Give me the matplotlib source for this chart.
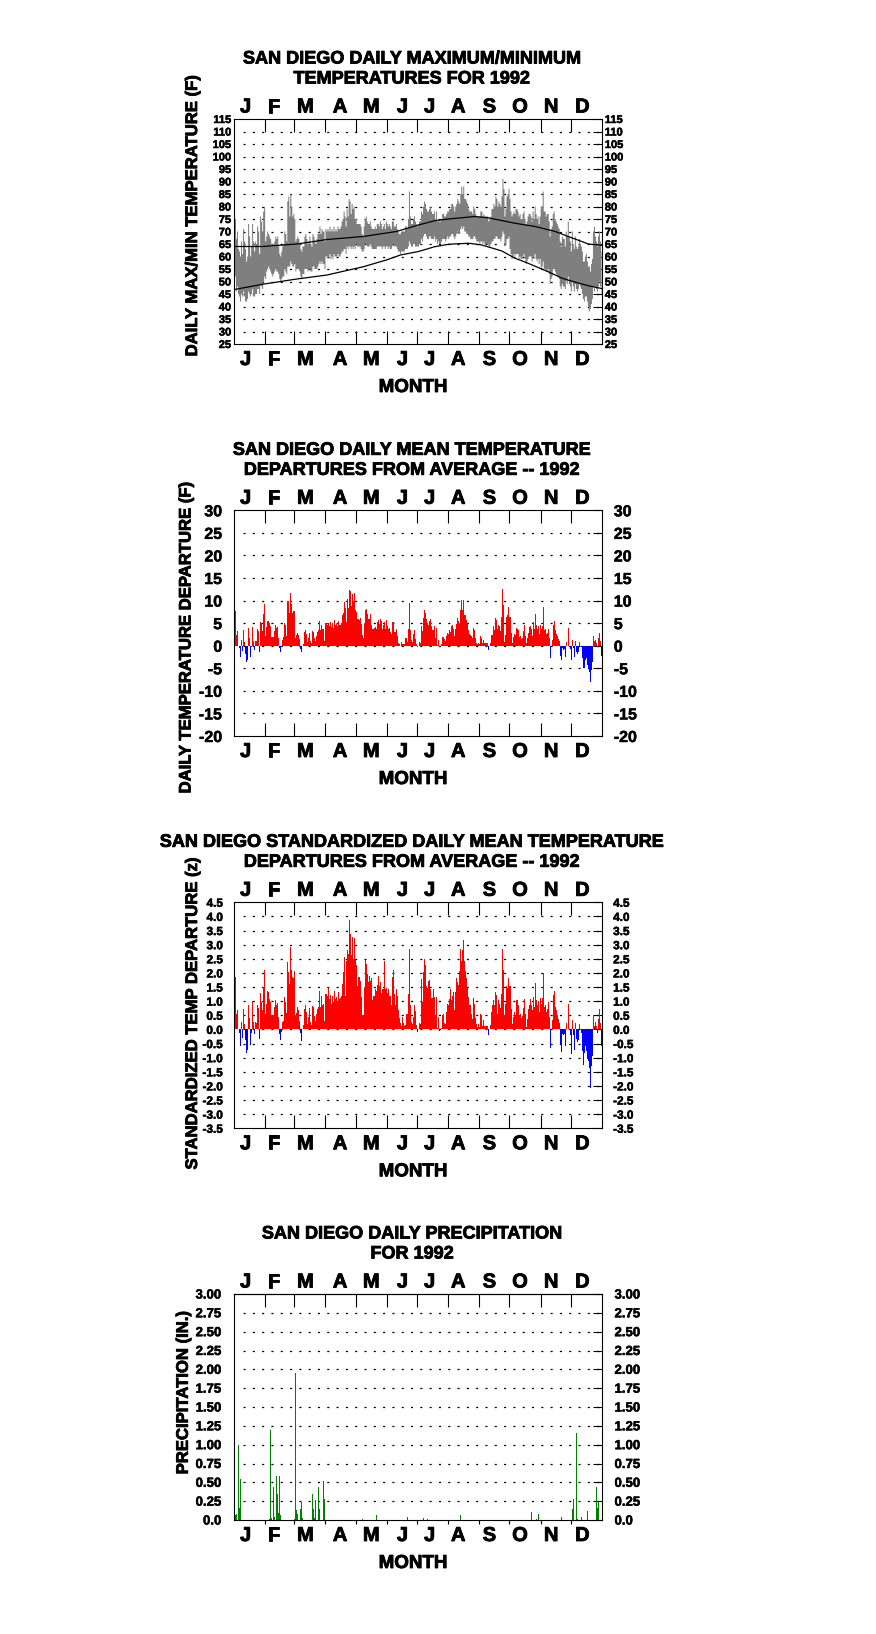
import numpy as np
import matplotlib
matplotlib.use('Agg')
import matplotlib.pyplot as plt
import matplotlib.patheffects as pe

plt.rcParams['font.family'] = ['Liberation Sans', 'DejaVu Sans']
plt.rcParams['font.weight'] = 'bold'
plt.rcParams['axes.unicode_minus'] = False
plt.rcParams['lines.scale_dashes'] = False

# ---------------- data ----------------
days = np.arange(1, 367)

# observed daily max / min (F), month by month
tmax = [68, 75, 67, 70, 63, 62, 60, 66, 61, 71, 66, 63, 58, 60, 73, 68, 60, 64, 73, 66, 62, 66, 65, 72, 70, 61, 76, 74, 70, 78, 80,
        66, 68, 70, 69, 68, 67, 64, 65, 64, 66, 68, 67, 68, 64, 61, 60, 62, 64, 65, 70, 69, 66, 82, 84, 76, 85, 80, 76, 77,
        75, 66, 67, 68, 67, 65, 63, 62, 64, 64, 68, 69, 67, 65, 66, 68, 65, 64, 69, 68, 66, 65, 67, 69, 69, 72, 69, 71, 70, 70, 66,
        71, 70, 71, 70, 72, 70, 71, 70, 72, 70, 71, 70, 72, 71, 71, 72, 74, 75, 78, 76, 72, 79, 76, 83, 82, 77, 81, 79, 80, 75,
        75, 73, 73, 73, 73, 72, 69, 68, 72, 75, 76, 74, 73, 73, 74, 72, 71, 71, 71, 72, 71, 73, 73, 72, 74, 73, 71, 72, 73, 71, 74,
        73, 72, 73, 72, 71, 74, 74, 72, 72, 73, 71, 70, 69, 69, 70, 70, 70, 70, 72, 72, 71, 75, 86, 76, 73, 73, 75, 76, 74, 73,
        72, 73, 74, 74, 78, 77, 80, 82, 81, 79, 78, 78, 79, 80, 78, 77, 77, 78, 75, 78, 74, 75, 74, 74, 75, 77, 77, 76, 76, 77, 78,
        78, 79, 79, 81, 81, 80, 78, 80, 81, 83, 82, 81, 85, 88, 85, 88, 83, 83, 82, 81, 79, 78, 78, 78, 77, 80, 79, 77, 76, 76, 76,
        76, 78, 78, 76, 77, 76, 76, 76, 76, 74, 75, 76, 79, 79, 81, 80, 84, 83, 80, 82, 81, 80, 84, 91, 87, 76, 79, 84, 85, 87,
        83, 78, 76, 77, 78, 77, 79, 79, 78, 76, 77, 75, 75, 77, 78, 75, 73, 74, 76, 77, 77, 76, 74, 78, 75, 80, 77, 75, 76, 73, 76,
        80, 80, 86, 78, 78, 76, 77, 77, 74, 68, 71, 72, 77, 78, 75, 74, 73, 72, 71, 66, 64, 68, 67, 67, 64, 70, 68, 74, 68, 66,
        62, 70, 65, 63, 68, 64, 63, 64, 67, 65, 64, 62, 58, 58, 60, 61, 58, 56, 56, 54, 57, 59, 70, 72, 68, 66, 64, 68, 70, 66, 62]
tmin = [46, 52, 46, 48, 45, 44, 42, 45, 44, 46, 44, 42, 42, 43, 46, 45, 44, 45, 47, 44, 44, 45, 45, 47, 47, 45, 49, 48, 47, 50, 52,
        51, 54, 55, 56, 55, 54, 53, 52, 53, 54, 55, 54, 54, 53, 51, 50, 51, 52, 52, 55, 54, 53, 56, 56, 56, 58, 57, 56, 56,
        57, 54, 55, 55, 55, 54, 52, 51, 53, 53, 55, 55, 55, 54, 55, 55, 54, 54, 56, 56, 55, 55, 55, 56, 57, 58, 57, 58, 57, 57, 55,
        60, 60, 60, 59, 61, 59, 60, 59, 61, 60, 60, 60, 61, 60, 60, 61, 62, 62, 63, 63, 61, 64, 63, 64, 64, 63, 64, 63, 64, 63,
        65, 64, 64, 64, 64, 63, 62, 62, 63, 65, 65, 64, 64, 64, 65, 64, 63, 63, 63, 63, 63, 64, 64, 64, 64, 64, 63, 64, 64, 63, 64,
        64, 63, 64, 63, 63, 64, 65, 64, 64, 64, 63, 62, 62, 61, 62, 62, 62, 62, 63, 63, 63, 64, 66, 65, 64, 64, 65, 65, 64, 64,
        64, 64, 65, 65, 67, 66, 68, 69, 69, 68, 67, 67, 68, 68, 67, 67, 67, 68, 66, 67, 65, 66, 65, 65, 66, 67, 67, 67, 66, 67, 68,
        67, 68, 68, 69, 69, 68, 67, 68, 69, 70, 69, 69, 71, 72, 71, 72, 70, 70, 69, 69, 68, 68, 67, 67, 67, 68, 68, 67, 66, 66, 66,
        65, 66, 66, 65, 66, 65, 65, 65, 65, 64, 64, 65, 66, 66, 67, 67, 68, 68, 67, 67, 67, 66, 68, 70, 69, 64, 65, 67, 67, 68,
        63, 61, 59, 60, 61, 60, 61, 61, 61, 59, 60, 59, 59, 60, 61, 59, 57, 58, 59, 60, 60, 60, 58, 60, 59, 61, 59, 58, 59, 57, 59,
        55, 56, 58, 55, 55, 54, 54, 55, 53, 49, 51, 52, 55, 55, 54, 53, 52, 52, 51, 48, 47, 49, 48, 48, 47, 50, 49, 52, 49, 48,
        46, 50, 48, 46, 49, 47, 46, 47, 49, 48, 47, 45, 43, 42, 44, 44, 42, 40, 38, 39, 41, 43, 48, 46, 48, 47, 46, 48, 50, 48, 45]

# normal max / min curves (F)
nmax_days = [1, 29, 63, 93, 129, 162, 184, 200, 214, 240, 253, 280, 300, 320, 333, 353, 366]
nmax = [64.0, 64.0, 65.0, 66.8, 68.0, 70.0, 72.6, 74.3, 75.0, 76.0, 75.5, 73.3, 72.0, 70.0, 68.0, 65.0, 64.5]
nmin_days = [1, 29, 63, 93, 129, 152, 166, 184, 200, 214, 234, 247, 267, 280, 293, 313, 327, 340, 353, 366]
nmin = [46.8, 48.9, 51.0, 52.6, 55.9, 58.6, 60.6, 62.0, 63.9, 64.9, 65.3, 64.6, 62.2, 59.3, 57.3, 53.9, 51.3, 49.7, 48.3, 47.2]

# daily mean departure (F)
dep = [1.3, 7.7, 2.4, 3.2, 0.0, -0.5, -2.6, 1.2, -1.2, 3.5,
       0.9, -1.8, -3.6, -3.1, 4.0, 1.8, -2.5, -0.3, 4.2, 1.0,
       -0.9, 1.1, 1.0, 3.7, 3.2, -1.3, 5.3, 5.1, 3.2, 7.1,
       9.3, 2.1, 4.2, 5.4, 5.4, 5.0, 4.3, 2.0, 2.0, 2.0,
       3.3, 4.5, 4.0, 4.2, 1.8, -0.5, -1.3, -0.3, 1.3, 1.9,
       5.1, 4.6, 2.2, 10.0, 9.8, 7.2, 11.7, 9.3, 7.2, 7.6,
       7.7, 1.8, 2.4, 2.8, 2.4, 1.5, -0.7, -1.5, 0.0, 0.3,
       3.1, 3.5, 2.6, 0.8, 1.7, 2.9, 1.0, 0.5, 3.3, 3.0,
       1.8, 1.0, 2.1, 3.1, 3.4, 5.4, 3.4, 4.7, 3.6, 3.7,
       1.1, 5.1, 4.7, 5.1, 4.3, 5.3, 4.2, 5.1, 4.0, 5.7,
       4.5, 4.8, 4.3, 5.5, 4.5, 4.6, 5.1, 6.8, 7.2, 9.6,
       8.3, 5.3, 10.4, 8.3, 12.4, 12.1, 8.9, 11.5, 9.9, 11.6,
       7.9, 7.5, 6.0, 5.9, 5.7, 6.1, 4.9, 2.4, 1.8, 4.8,
       7.9, 8.2, 7.0, 6.0, 6.0, 7.1, 4.6, 3.7, 3.8, 4.0,
       4.2, 3.7, 5.3, 5.7, 4.8, 6.0, 5.4, 3.8, 4.7, 5.3,
       3.7, 5.7, 4.3, 3.8, 4.0, 3.0, 2.6, 5.3, 5.3, 3.0,
       3.0, 3.7, 2.2, 0.7, 0.4, 0.0, 0.8, 0.4, 0.4, 0.3,
       1.8, 1.8, 0.9, 3.7, 9.4, 3.5, 1.3, 0.9, 2.6, 3.5,
       1.5, 0.4, -0.2, 0.0, 0.9, 0.7, 4.3, 3.2, 6.1, 7.9,
       7.2, 5.9, 5.0, 4.5, 5.4, 6.0, 4.3, 3.5, 3.5, 4.4,
       1.8, 3.9, 0.2, 1.3, -0.2, 0.0, 0.4, 1.9, 1.9, 1.5,
       1.0, 2.1, 2.8, 2.5, 3.4, 3.1, 4.3, 4.5, 3.8, 2.2,
       3.7, 4.8, 6.2, 5.5, 4.9, 7.9, 10.1, 8.0, 10.1, 6.7,
       6.7, 5.7, 4.9, 3.4, 2.7, 2.4, 2.1, 1.7, 3.9, 3.5,
       1.6, 0.7, 0.4, 0.7, 0.4, 2.2, 1.7, 0.6, 1.3, 0.6,
       0.6, 0.6, 0.6, -0.9, 0.0, 0.6, 2.4, 2.4, 4.3, 3.5,
       6.1, 5.7, 3.7, 4.6, 4.3, 3.2, 6.4, 12.5, 9.1, 0.9,
       2.4, 6.3, 6.8, 8.6, 6.3, 2.9, 0.7, 1.9, 2.7, 2.4,
       3.9, 3.8, 3.5, 1.9, 2.2, 1.5, 1.8, 3.3, 4.5, 2.1,
       0.7, 1.6, 2.9, 4.1, 4.3, 3.8, 2.2, 5.2, 3.6, 7.1,
       4.6, 3.7, 4.3, 2.5, 4.6, 3.7, 4.4, 8.6, 3.5, 3.7,
       2.6, 2.9, 3.8, 1.6, -2.7, 0.0, 1.3, 4.6, 5.4, 3.5,
       2.7, 2.1, 1.5, 1.0, -2.2, -3.1, -0.5, -0.9, -0.7, -2.4,
       0.9, 0.0, 3.9, 0.0, -0.7, -3.2, 1.3, -0.6, -2.5, 1.1,
       -1.3, -1.8, -1.4, 0.9, 0.0, -0.3, -2.7, -4.9, -4.9, -3.2,
       -2.7, -4.2, -5.1, -5.9, -8.0, -5.3, -3.7, 2.2, 1.0, 1.2,
       0.7, -0.3, 1.7, 2.9, 1.0, -2.2]

# standardized daily mean departure (z)
zdep = [0.34, 1.84, 0.53, 0.67, 0.0, -0.12, -0.57, 0.26, -0.32, 0.71,
        0.19, -0.39, -0.84, -0.72, 0.87, 0.40, -0.54, -0.13, 0.99, 0.25,
        -0.15, 0.25, 0.24, 0.88, 0.77, -0.34, 1.29, 0.97, 0.70, 1.49,
        2.12, 0.54, 0.90, 1.35, 1.31, 1.07, 0.97, 0.50, 0.50, 0.50,
        0.81, 1.04, 0.87, 0.95, 0.45, -0.15, -0.37, -0.10, 0.26, 0.29,
        1.14, 0.97, 0.58, 2.38, 2.03, 1.62, 2.91, 2.09, 1.85, 1.83,
        2.06, 0.50, 0.59, 0.79, 0.67, 0.29, -0.12, -0.41, 0.0, 0.14,
        0.72, 0.87, 0.61, 0.18, 0.44, 0.77, 0.28, 0.14, 0.83, 0.79,
        0.48, 0.29, 0.55, 0.73, 0.81, 1.36, 0.81, 1.19, 0.86, 0.91,
        0.29, 1.26, 1.18, 1.45, 1.09, 1.22, 0.91, 1.17, 0.98, 1.37,
        1.06, 1.14, 1.01, 1.31, 1.06, 1.10, 1.20, 1.62, 2.02, 2.56,
        1.20, 2.41, 2.80, 2.68, 3.88, 3.39, 2.65, 3.27, 2.50, 3.24,
        2.47, 2.27, 1.52, 1.85, 1.85, 1.73, 1.14, 0.50, 0.50, 1.47,
        2.47, 2.32, 1.95, 1.68, 1.88, 1.73, 1.83, 1.05, 1.19, 1.19,
        1.44, 1.37, 1.56, 1.90, 1.55, 1.68, 1.29, 1.43, 1.43, 2.42,
        1.43, 1.46, 1.29, 1.43, 1.19, 1.19, 0.88, 1.85, 2.11, 1.26,
        0.88, 1.44, 1.19, 0.67, 0.41, 0.22, 0.11, 0.44, 0.22, 0.11,
        0.14, 0.53, 0.53, 1.24, 2.86, 0.85, 0.25, 0.18, 0.44, 0.85,
        0.65, 0.14, -0.09, 0.0, 0.22, 0.20, 1.77, 0.97, 2.03, 2.48,
        2.27, 1.52, 1.47, 1.73, 1.76, 1.44, 1.12, 1.12, 1.44, 1.14,
        0.50, 1.14, 0.05, 0.44, -0.07, 0.0, 0.06, 0.50, 0.53, 0.24,
        0.20, 0.61, 0.91, 0.88, 1.09, 1.44, 1.05, 1.18, 1.32, 0.70,
        1.32, 1.81, 1.68, 1.59, 2.06, 2.86, 2.41, 2.82, 3.15, 2.41,
        2.06, 1.83, 1.47, 1.14, 0.88, 0.88, 0.55, 0.37, 1.12, 0.91,
        0.41, 0.18, 0.08, 0.18, 0.08, 0.55, 0.50, 0.11, 0.35, 0.12,
        0.12, 0.12, 0.12, -0.21, 0.0, 0.14, 0.61, 0.85, 1.05, 0.85,
        1.32, 1.23, 0.55, 1.03, 0.91, 0.77, 1.26, 2.86, 2.09, 0.50,
        0.91, 1.52, 1.45, 1.83, 1.52, 0.73, 0.20, 0.44, 0.61, 0.50,
        1.03, 1.03, 0.88, 0.50, 0.55, 0.41, 0.46, 0.77, 1.09, 0.55,
        0.08, 0.38, 0.72, 0.88, 1.06, 0.88, 0.67, 1.14, 0.81, 1.65,
        1.05, 0.88, 0.99, 0.63, 1.12, 0.91, 1.12, 1.99, 0.81, 0.88,
        0.61, 0.73, 0.97, 0.44, -0.66, 0.0, 0.34, 1.23, 1.36, 0.81,
        0.67, 0.50, 0.38, 0.22, -0.53, -0.80, -0.15, -0.20, -0.15, -0.58,
        0.22, 0.0, 0.91, 0.0, -0.21, -0.86, 0.34, -0.21, -0.72, 0.22,
        -0.33, -0.45, -0.37, 0.20, 0.0, -0.13, -0.75, -1.25, -0.85, -0.60,
        -0.75, -1.05, -1.10, -1.35, -2.06, -1.30, -0.95, 0.50, 0.11, 0.26,
        0.11, -0.13, 0.38, 0.71, 0.24, -0.57]

# daily precipitation (in.), only days with rain
prcp_days = [2, 3, 5, 6, 7, 36, 37, 38, 40, 41, 43, 44, 45, 46, 47, 61, 62, 63, 64, 67,
             68, 69, 79, 80, 81, 82, 85, 86, 90, 91, 128, 142, 173, 189, 193, 226, 296, 301, 303, 326,
             337, 338, 341, 342, 346, 352, 361, 362, 363]
prcp = [0.06, 0.08, 1.00, 0.16, 0.54, 0.01, 1.19, 0.02, 0.44, 0.04, 0.58, 0.35, 0.09, 0.58, 0.06, 0.01, 1.95, 0.13, 0.08, 0.15,
        0.24, 0.02, 0.35, 0.15, 0.02, 0.27, 0.44, 0.15, 0.52, 0.28, 0.01, 0.07, 0.04, 0.03, 0.01, 0.06, 0.11, 0.01, 0.08, 0.04,
        0.14, 0.28, 1.15, 0.01, 0.04, 0.12, 0.44, 0.16, 0.24]

months = list('JFMAMJJASOND')
month_lab_pos = [12, 40, 71.5, 106, 137, 168, 195, 223.5, 254.5, 285, 316, 347]
month_edges = [31.5, 60.5, 91.5, 121.5, 152.5, 182.5, 213.5, 244.5, 274.5, 305.5, 335.5]

# ---------------- layout ----------------
W, H = 876, 1634
fig = plt.figure(figsize=(W / 100, H / 100), dpi=100)
heavy = [pe.withStroke(linewidth=0.6, foreground='black')]
light = [pe.withStroke(linewidth=0.35, foreground='black')]


def frame(top, bottom, ylo, yhi, step, labels, fs, pad, title, ylab, ylab_xy, out_bottom=False):
    ax = fig.add_axes([234 / W, 1 - bottom / H, 368 / W, (bottom - top) / H])
    hpx = bottom - top
    ax.set_xlim(0.5, 366.5)
    ax.set_ylim(ylo, yhi)
    ticks = np.arange(ylo, yhi + step / 2, step)
    ax.set_yticks(ticks)
    ax.set_yticklabels(labels)
    ax.tick_params(axis='y', left=False, right=True, labelleft=True, labelright=True,
                   direction='in', length=6.5, width=0.8, labelsize=fs, pad=pad)
    for lbl in ax.yaxis.get_majorticklabels():
        lbl.set_path_effects(light)
    ax.set_xticks(month_edges)
    ax.set_xticklabels([])
    if out_bottom:
        ax.tick_params(axis='x', top=False, bottom=True, direction='out', length=3, width=0.8)
        sec = ax.secondary_xaxis('top')
        sec.set_xticks(month_edges)
        sec.set_xticklabels([])
        sec.tick_params(direction='in', length=9.5, width=0.8)
        sec.spines['top'].set_linewidth(0.8)
    else:
        ax.tick_params(axis='x', top=True, bottom=True, direction='in', length=9.5, width=0.8)
    for s in ax.spines.values():
        s.set_linewidth(0.8)
    for v in ticks[1:-1]:
        ax.plot([9.5, 366.5], [v, v], color='black', lw=0.9, dashes=(1.5, 5.2), zorder=0.5)
    for m, p in zip(months, month_lab_pos):
        ax.text(p, 1 + 6.5 / hpx, m, transform=ax.get_xaxis_transform(),
                ha='center', va='baseline', fontsize=14.5, path_effects=heavy)
        ax.text(p, -21 / hpx, m, transform=ax.get_xaxis_transform(),
                ha='center', va='baseline', fontsize=14.5, path_effects=heavy)
    fig.text(412 / W, 1 - (top - 55.5) / H, title[0], ha='center', va='baseline', fontsize=13,
             path_effects=heavy)
    fig.text(412 / W, 1 - (top - 35.5) / H, title[1], ha='center', va='baseline', fontsize=13,
             path_effects=heavy)
    fig.text(413 / W, 1 - (bottom + 48) / H, 'MONTH', ha='center', va='baseline', fontsize=13.5,
             path_effects=heavy)
    fig.text(ylab_xy[0] / W, 1 - ylab_xy[1] / H, ylab, rotation=90, ha='center', va='center',
             fontsize=12, path_effects=heavy)
    return ax


# panel 1: max/min temperatures
ax1 = frame(119, 344, 25, 115, 5, [str(v) for v in range(25, 116, 5)], 8, 2,
            ('SAN DIEGO DAILY MAXIMUM/MINIMUM', 'TEMPERATURES FOR 1992'),
            'DAILY MAX/MIN TEMPERATURE (F)', (192.5, 216))
ax1.fill_between(days, tmin, tmax, step='mid', facecolor='#7f7f7f', linewidth=0, zorder=2)
ax1.plot(nmax_days, nmax, color='black', lw=0.9, zorder=3)
ax1.plot(nmin_days, nmin, color='black', lw=0.9, zorder=3)

# panel 2: departures
ax2 = frame(510.3, 736, -20, 30, 5, [str(v) for v in range(-20, 31, 5)], 11.5, 8.5,
            ('SAN DIEGO DAILY MEAN TEMPERATURE', 'DEPARTURES FROM AVERAGE -- 1992'),
            'DAILY TEMPERATURE DEPARTURE (F)', (186, 638))
ax2.bar(days, dep, width=1.0, color=['#ff0000' if v >= 0 else '#0000ff' for v in dep],
        linewidth=0, zorder=2)

# panel 3: standardized departures
zt = np.arange(-3.5, 4.51, 0.5)
ax3 = frame(902.3, 1128.3, -3.5, 4.5, 0.5, ['%.1f' % v for v in zt], 8.5, 8,
            ('SAN DIEGO STANDARDIZED DAILY MEAN TEMPERATURE', 'DEPARTURES FROM AVERAGE -- 1992'),
            'STANDARDIZED TEMP DEPARTURE (z)', (192.5, 1014))
ax3.bar(days, zdep, width=1.0, color=['#ff0000' if v >= 0 else '#0000ff' for v in zdep],
        linewidth=0, zorder=2)

# panel 4: precipitation
pt = np.arange(0, 3.01, 0.25)
ax4 = frame(1294, 1520, 0, 3.0, 0.25, ['0.0'] + ['%.2f' % v for v in pt[1:]], 9.5, 9,
            ('SAN DIEGO DAILY PRECIPITATION', 'FOR 1992'),
            'PRECIPITATION (IN.)', (183.3, 1393), out_bottom=True)
ax4.bar(prcp_days, prcp, width=1.0, color='#008000', linewidth=0, zorder=2)

fig.savefig('out.png', dpi=100, facecolor='white')
